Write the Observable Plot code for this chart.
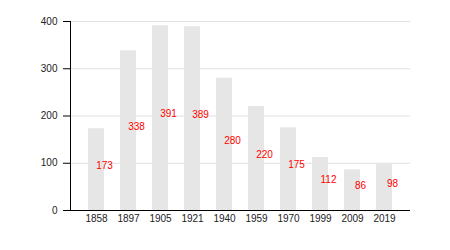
<!DOCTYPE html>
<html>
<head>
<meta charset="utf-8">
<script src="https://cdn.jsdelivr.net/npm/d3@7"></script>
<script src="https://cdn.jsdelivr.net/npm/@observablehq/plot@0.6"></script>
<style>
  html, body { margin: 0; padding: 0; background: #fff; }
  #chart svg { display: block; font-family: "Liberation Sans", Arial, sans-serif; }
</style>
</head>
<body>
<div id="chart"></div>
<script>
const years = ["1858", "1897", "1905", "1921", "1940", "1959", "1970", "1999", "2009", "2019"];
const population = [173, 338, 391, 389, 280, 220, 175, 112, 86, 98];
const yTicks = [0, 100, 200, 300, 400];
const gridTicks = [100, 200, 300, 400];

const data = years.map((year, i) => ({year, value: population[i]}));

const chart = Plot.plot({
  width: 450,
  height: 250,
  marginTop: 21,
  marginBottom: 40,
  marginLeft: 70,
  marginRight: 40,
  style: {fontFamily: "Liberation Sans, Arial, sans-serif", fontSize: "10px", background: "#fff"},
  x: {domain: years, padding: 0.5, label: null},
  y: {domain: [0, 400], label: null},
  marks: [
    Plot.gridY(gridTicks, {stroke: "#e0e0e0", strokeOpacity: 1}),
    Plot.barY(data, {x: "year", y: "value", fill: "#e6e6e6"}),
    Plot.text(data, {x: "year", y: d => d.value / 2, text: d => String(d.value), fill: "red", fontSize: 10, dx: 8, dy: -4}),
    Plot.ruleY([0], {stroke: "#000"}),
    Plot.frame({anchor: "left", stroke: "#000"}),
    Plot.axisY(yTicks, {tickSize: 7, tickPadding: 6, fontSize: 10, fill: "#222", label: null}),
    Plot.axisX({tickSize: 0, tickPadding: 4, fontSize: 10, fill: "#222", label: null})
  ]
});
document.getElementById("chart").appendChild(chart);
</script>
</body>
</html>
